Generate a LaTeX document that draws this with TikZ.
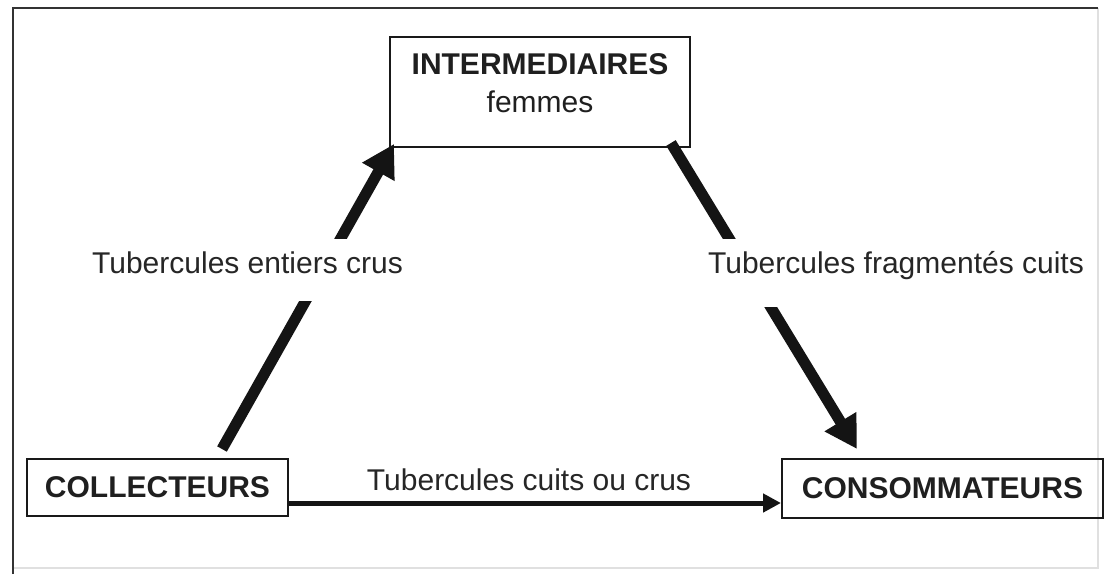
\documentclass[tikz,border=0pt]{standalone}
\usepackage{fontspec}
\setmainfont{Liberation Sans}
\usetikzlibrary{arrows.meta,calc}
\begin{document}
\begin{tikzpicture}[x=1pt,y=-1pt,
  box/.style={draw=black!90, line width=2pt, inner sep=0pt, align=center,
    font=\fontsize{30}{38}\selectfont\bfseries, text=black!88},
  lbl/.style={font=\fontsize{30}{36}\selectfont, text=black!85, anchor=base},
  lblcut/.style={lbl, fill=white, text height=26pt, inner xsep=4pt, inner ysep=8pt},
  flow/.style={line width=11pt, draw=black!92, -{Triangle[length=32pt,width=35pt]}},
  flowthin/.style={line width=5pt, draw=black!92, -{Triangle[length=18pt,width=18pt]}}]
\useasboundingbox (0,0) rectangle (1109,574);
\fill[white] (0,0) rectangle (1109,574);
% frame
\draw[black!12, line width=1.5pt] (1098,8) -- (1098,568) -- (13,568);
\draw[black!80, line width=2.5pt] (13,574) -- (13,8) -- (1098,8);
% boxes
\node[box, minimum width=300pt, minimum height=110pt] (inter) at (540,92)
  {INTERMEDIAIRES\\{\mdseries femmes}\rule[-17pt]{0pt}{17pt}};
\node[box, minimum width=261pt, minimum height=57pt] (coll) at (157.5,487.5) {COLLECTEURS};
\node[box, minimum width=321pt, minimum height=59pt] (cons) at (942.5,488.5) {CONSOMMATEURS};
% connectors
\draw[flow] ($(coll.north)+(64.5,-9)$) -- ($(inter.south west)+(5,-4)$);
\draw[flow] ($(inter.south east)+(-20,-5)$) -- ($(cons.north)+(-85.5,-9)$);
\draw[flowthin] ([yshift=-15.5pt]coll.east) -- ([yshift=-15.5pt]coll.east -| cons.west);
% labels
\node[lblcut, text depth=20pt] (l1) at (247.5,273) {Tubercules entiers crus};
\node[lblcut, text depth=26pt] (l2) at (896,273) {Tubercules fragmentés cuits};
\node[lbl] (l3) at (529,490) {Tubercules cuits ou crus};
\end{tikzpicture}
\end{document}
